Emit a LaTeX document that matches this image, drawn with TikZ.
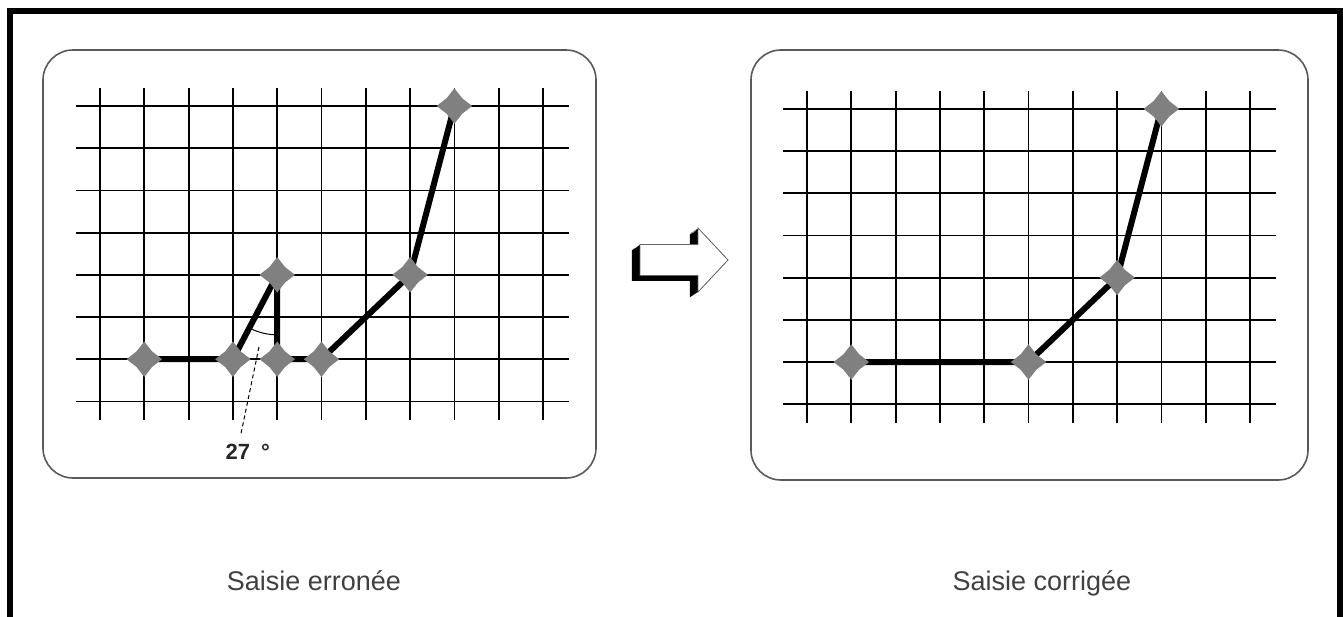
\documentclass[tikz,border=0pt]{standalone}
\usepackage{fontspec}
\setmainfont{Liberation Sans}
\usetikzlibrary{shapes.geometric,angles}

\def\dx{44.3}
\def\dy{42.2}

\tikzset{
  grille/.style={line width=1.8pt},
  trace/.style={line width=6pt,line join=round},
  point/.style={star,star points=4,star point ratio=0.62,shape border rotate=45,minimum size=22pt,inner sep=0pt,fill=black!50,draw=none},
  cadre/.style={draw=black!65,line width=1.6pt,rounded corners=30pt},
  legende/.style={font=\fontsize{27}{32}\selectfont,text=black!75,anchor=base},
  pics/quadrillage/.style={code={
    \foreach \i in {0,...,10}
      \draw[grille] (\i*\dx,-18) -- (\i*\dx,314);
    \foreach \j in {0,...,7}
      \draw[grille] (-24,\j*\dy) -- (469,\j*\dy);
  }}
}

\begin{document}
\begin{tikzpicture}[x=1pt,y=-1pt]
  \useasboundingbox (0,0) rectangle (1343,616);
  % cadre general
  \draw[line width=6pt] (10,640) -- (10,11) -- (1340,11) -- (1340,640);

  % saisie erronee
  \draw[cadre] (43,50) rectangle (596,478);
  \begin{scope}[shift={(100,106)}]
    \pic {quadrillage};
    \coordinate (a1) at (1*\dx,6*\dy);
    \coordinate (a2) at (3*\dx,6*\dy);
    \coordinate (a3) at (4*\dx,4*\dy);
    \coordinate (a4) at (4*\dx,6*\dy);
    \coordinate (a5) at (5*\dx,6*\dy);
    \coordinate (a6) at (7*\dx,4*\dy);
    \coordinate (a7) at (8*\dx,0*\dy);
  \end{scope}
  \draw[trace] (a1) -- (a2) -- (a3) -- (a4) -- (a5) -- (a6) -- (a7);
  \foreach \p in {a1,a2,a3,a4,a5,a6,a7}
    \node[point] (m-\p) at (\p) {};
  \pic[draw,line width=1pt,angle radius=60pt] {angle=a2--a3--a4};
  \node[font=\fontsize{22}{26}\selectfont\bfseries,text=black!85,anchor=base west] (angle) at (222,459) {27\hspace{0.5em}°};
  \coordinate (repere) at (259,347);
  \coordinate (pied) at (240.7,435);
  \draw[dashed,line width=1pt,dash pattern=on 4pt off 3pt] (repere) -- (pied);
  \node[legende] (gauche) at (314,590) {Saisie erronée};

  % fleche
  \def\fleche{(640,244.5) -- (698,244.5) -- (698,228) -- (728,260) -- (698,292) -- (698,275.5) -- (640,275.5) -- cycle}
  \foreach \t in {0,0.1,...,1}
    \fill[black,shift={(-9*\t,6*\t)}] \fleche;
  \filldraw[fill=white,draw=black!60,line width=0.8pt] \fleche;

  % saisie corrigee
  \draw[cadre] (751,50) rectangle (1308,480);
  \begin{scope}[shift={(807,108.8)}]
    \pic {quadrillage};
    \coordinate (b1) at (1*\dx,6*\dy);
    \coordinate (b2) at (5*\dx,6*\dy);
    \coordinate (b3) at (7*\dx,4*\dy);
    \coordinate (b4) at (8*\dx,0*\dy);
  \end{scope}
  \draw[trace] (b1) -- (b2) -- (b3) -- (b4);
  \foreach \p in {b1,b2,b3,b4}
    \node[point] (m-\p) at (\p) {};
  \node[legende] (droite) at (1042,590) {Saisie corrigée};
\end{tikzpicture}
\end{document}
